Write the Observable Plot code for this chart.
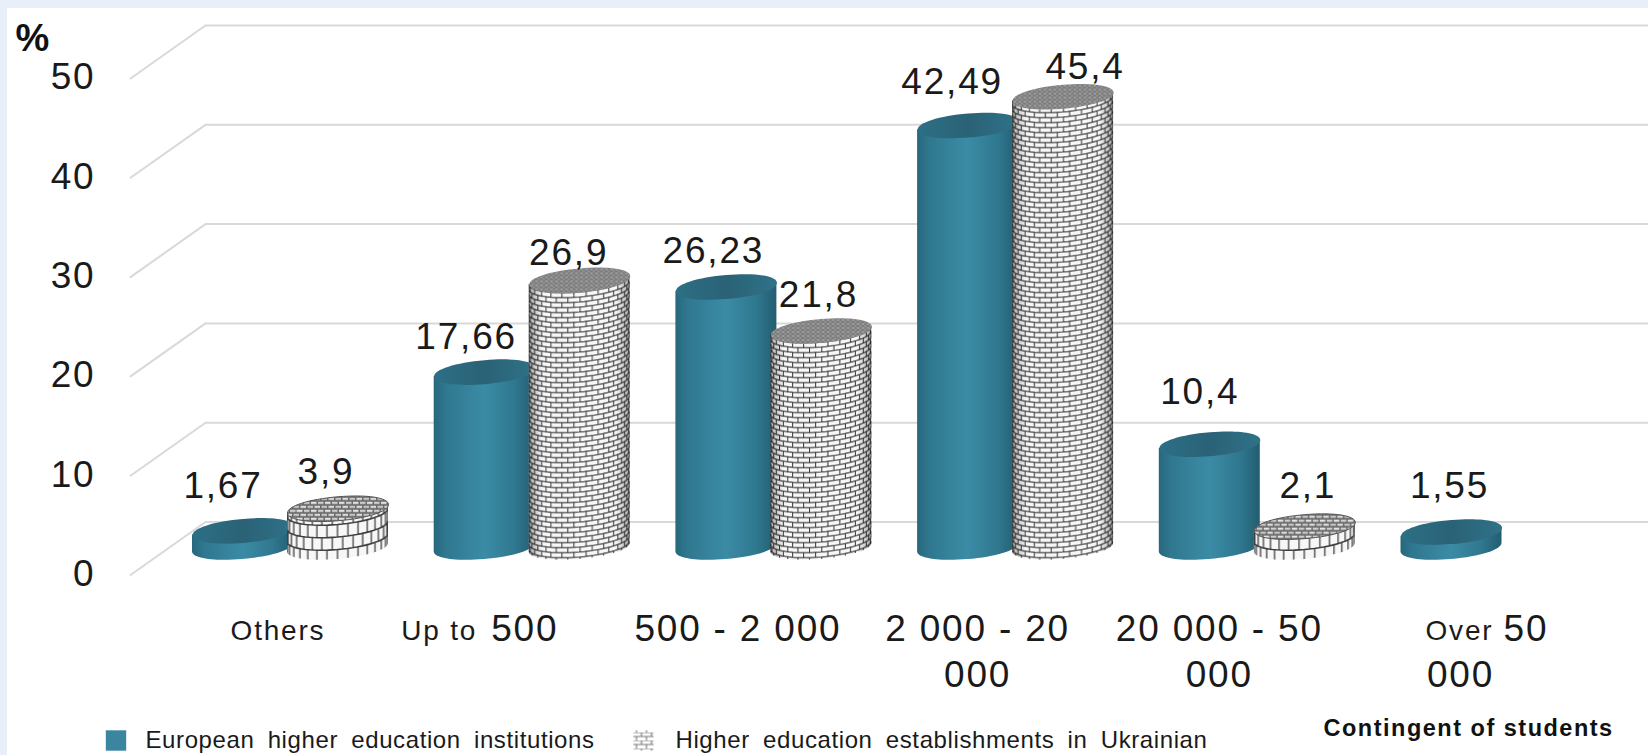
<!DOCTYPE html>
<html>
<head>
<meta charset="utf-8">
<script src="https://cdn.jsdelivr.net/npm/d3@7"></script>
<script src="https://cdn.jsdelivr.net/npm/@observablehq/plot@0.6"></script>
<style>
  html, body { margin: 0; padding: 0; width: 1648px; height: 755px; overflow: hidden; background: #e9eff8; }
  #panel { position: absolute; left: 7px; top: 8px; right: 0; bottom: 0; background: #fff; }
  #chart { position: absolute; left: 0; top: 0; }
  #chart text { letter-spacing: 1.8px; }
  #chart .legend-entry text { letter-spacing: 0.6px; word-spacing: 6px; }
  #chart .x-title text { letter-spacing: 1.5px; }
</style>
</head>
<body>
<div id="panel"></div>
<div id="chart"></div>
<script>
// Share of institutions by size of student body, in percent.
const categories = ["Others", "Up to 500", "500 - 2 000", "2 000 - 20 000", "20 000 - 50 000", "Over 50 000"];
const european = [1.67, 17.66, 26.23, 42.49, 10.4, 1.55];
const ukrainian = [3.9, 26.9, 21.8, 45.4, 2.1, null];
const yTicks = [0, 10, 20, 30, 40, 50];
const europeanName = "European higher education institutions";
const ukrainianName = "Higher education establishments in Ukrainian";
const xTitle = "Contingent of students";
const yTitle = "%";

const comma = (v) => String(v).replace(".", ",");
const rows = (values) => values.map((value, i) => ({category: categories[i], value})).filter((d) => d.value != null);
const europeanRows = rows(european);
const ukrainianRows = rows(ukrainian);

// Cylinder geometry: half width, ellipse half height and the rise of the right end.
const A = 50.5, B = 12, S = 4.2, K = 0.58;
const STEP = 241.7, CENTER0 = 290;
const INNER = 117.85, OUTER = 22.85, SHIFT = 47.5;
const FRONT = 27.5, BACK = -25.5;

// Maps a point of the unit circle onto the sheared ellipse.
const ex = (u) => A * u;
const ey = (u, v) => B * v - S * u;

const ellipse = {
  draw(c) {
    c.moveTo(ex(1), ey(1, 0));
    c.bezierCurveTo(ex(1), ey(1, K), ex(K), ey(K, 1), ex(0), ey(0, 1));
    c.bezierCurveTo(ex(-K), ey(-K, 1), ex(-1), ey(-1, K), ex(-1), ey(-1, 0));
    c.bezierCurveTo(ex(-1), ey(-1, -K), ex(-K), ey(-K, -1), ex(0), ey(0, -1));
    c.bezierCurveTo(ex(K), ey(K, -1), ex(1), ey(1, -K), ex(1), ey(1, 0));
    c.closePath();
  }
};

// Turns each bar rectangle into a cylinder wall with a rounded, tilted bottom.
function cylinderBody(index, scales, values, dimensions, context, next) {
  const g = next(index, scales, values, dimensions, context);
  g.querySelectorAll("rect").forEach((r) => {
    const x = +r.getAttribute("x"), y = +r.getAttribute("y");
    const w = +r.getAttribute("width"), h = +r.getAttribute("height");
    const cx = x + w / 2, by = y + h;
    const p = d3.path();
    p.moveTo(cx + ex(-1), y + ey(-1, 0));
    p.lineTo(cx + ex(-1), by + ey(-1, 0));
    p.bezierCurveTo(cx + ex(-1), by + ey(-1, K), cx + ex(-K), by + ey(-K, 1), cx, by + ey(0, 1));
    p.bezierCurveTo(cx + ex(K), by + ey(K, 1), cx + ex(1), by + ey(1, K), cx + ex(1), by + ey(1, 0));
    p.lineTo(cx + ex(1), y + ey(1, 0));
    p.closePath();
    const path = document.createElementNS("http://www.w3.org/2000/svg", "path");
    path.setAttribute("d", p.toString());
    r.replaceWith(path);
  });
  return g;
}

// Brick wall wrapped round a cylinder: joints crowd together towards the edges
// and the courses bow downward in the middle.
function brickTile(id, rowH, jointDeg, courseStroke, courseWidth, jointStroke, jointWidth) {
  const left = (CENTER0 - 3) % STEP, cx = left + A;
  const course = (y, u) => y + B * Math.sqrt(Math.max(0, 1 - u * u)) - S * u;
  const reach = Math.ceil(24 / rowH);
  let courses = "", joints = "";
  for (let k = -reach; k <= reach; k++) {
    const y0 = k * rowH;
    const pts = d3.range(0, 33).map((i) => {
      const u = Math.sin((-90 + i * 180 / 32) * Math.PI / 180);
      return `${(cx + A * u).toFixed(2)},${course(y0, u).toFixed(2)}`;
    });
    courses += "M" + pts.join("L");
    const offset = (k & 1) ? jointDeg / 2 : 0;
    for (let t = -90 + offset; t <= 90; t += jointDeg) {
      const u = Math.sin(t * Math.PI / 180);
      const x = (cx + A * u).toFixed(2);
      joints += `M${x},${course(y0, u).toFixed(2)}L${x},${course(y0 + rowH, u).toFixed(2)}`;
    }
  }
  return `<pattern id="${id}" patternUnits="userSpaceOnUse" width="${STEP}" height="${2 * rowH}">
    <rect width="${STEP}" height="${2 * rowH}" fill="#f7f7f7"/>
    <path d="${courses}" fill="none" stroke="${courseStroke}" stroke-width="${courseWidth}"/>
    <path d="${joints}" fill="none" stroke="${jointStroke}" stroke-width="${jointWidth}"/>
  </pattern>`;
}

// Gradients and patterns used as fills by the marks below.
function paintDefs() {
  const svg = document.createElementNS("http://www.w3.org/2000/svg", "g");
  svg.innerHTML = `<defs>
    <linearGradient id="tealBody" x1="0" x2="1" y1="0" y2="0">
      <stop offset="0" stop-color="#27677d"/><stop offset="0.12" stop-color="#2f788f"/>
      <stop offset="0.5" stop-color="#3b8ba5"/><stop offset="0.8" stop-color="#2f788f"/>
      <stop offset="1" stop-color="#235d71"/>
    </linearGradient>
    <linearGradient id="tealTop" x1="0" x2="1" y1="0" y2="0">
      <stop offset="0" stop-color="#2d6f86"/><stop offset="0.5" stop-color="#2a6276"/>
      <stop offset="1" stop-color="#2f7288"/>
    </linearGradient>
    <linearGradient id="brickShade" x1="0" x2="1" y1="0" y2="0">
      <stop offset="0" stop-color="#000" stop-opacity="0.3"/><stop offset="0.14" stop-color="#000" stop-opacity="0"/>
      <stop offset="0.86" stop-color="#000" stop-opacity="0"/><stop offset="1" stop-color="#000" stop-opacity="0.3"/>
    </linearGradient>
    ${brickTile("brickTall", 5, 14, "#7a7a7a", 1.7, "#333", 1)}
    ${brickTile("brickShort", 12.5, 12, "#3f3f3f", 1.6, "#3f3f3f", 1.3)}
    <pattern id="topTall" patternUnits="userSpaceOnUse" width="5" height="4">
      <rect width="5" height="4" fill="#7c7c7c"/>
      <rect x="0.5" y="0.5" width="2.5" height="1" fill="#bdbdbd"/>
      <rect x="3" y="2.5" width="2" height="1" fill="#a8a8a8"/>
    </pattern>
    <pattern id="topShort" patternUnits="userSpaceOnUse" width="14" height="8">
      <rect width="14" height="8" fill="#6a6a6a"/>
      <rect x="1" y="1" width="5.5" height="2.2" fill="#e4e4e4"/>
      <rect x="8" y="1" width="5.5" height="2.2" fill="#cfcfcf"/>
      <rect x="4.5" y="5" width="5.5" height="2.2" fill="#dcdcdc"/>
      <rect x="11.5" y="5" width="2.5" height="2.2" fill="#c6c6c6"/>
      <rect x="0" y="5" width="3" height="2.2" fill="#c6c6c6"/>
    </pattern>
    <pattern id="swatchBrick" patternUnits="userSpaceOnUse" width="10" height="8" x="3" y="0">
      <rect width="10" height="8" fill="#fff"/>
      <path d="M0,0H10M0,4H10M5,0V4M0,4V8M10,4V8" stroke="#777" stroke-width="1.1" fill="none"/>
    </pattern>
  </defs>`;
  return svg;
}

const isTall = (d) => d.value >= 5;

// Value labels are nudged by hand so that they clear the neighbouring cylinder.
const europeanNudge = [[-20, -45], [-18.6, -35], [-13, -36], [-16, -43], [-10, -52], [-2, -46]];
const ukrainianNudge = [[-12, -37], [-11, -27], [-3, -36], [22, -30], [3, -40]];
const valueLabels = (data, shift, nudge) => data.map((d, i) => Plot.text([d], {
  x: "category", y: "value", text: (r) => comma(r.value),
  dx: shift + nudge[i][0], dy: nudge[i][1],
  fontSize: 37, fill: "#1a1a1a", lineAnchor: "middle"
}));

// Category names mix two type sizes and wrap on to a second line.
const BIG = 37, SMALL = 28, LINE1 = 629, LINE2 = 675;
const categoryPieces = [
  {i: 0, text: "Others", dx: -12.5, y: LINE1 + 2, size: SMALL, anchor: "middle"},
  {i: 1, text: "Up to", dx: -131, y: LINE1 + 2, size: SMALL, anchor: "start"},
  {i: 1, text: "500", dx: -41, y: LINE1, size: BIG, anchor: "start"},
  {i: 2, text: "500 - 2 000", dx: -36, y: LINE1, size: BIG, anchor: "middle"},
  {i: 3, text: "2 000 - 20", dx: -38, y: LINE1, size: BIG, anchor: "middle"},
  {i: 3, text: "000", dx: -38, y: LINE2, size: BIG, anchor: "middle"},
  {i: 4, text: "20 000 - 50", dx: -38, y: LINE1, size: BIG, anchor: "middle"},
  {i: 4, text: "000", dx: -38, y: LINE2, size: BIG, anchor: "middle"},
  {i: 5, text: "Over", dx: -73.5, y: LINE1 + 2, size: SMALL, anchor: "start"},
  {i: 5, text: "50", dx: 4.5, y: LINE1, size: BIG, anchor: "start"},
  {i: 5, text: "000", dx: -38.5, y: LINE2, size: BIG, anchor: "middle"}
];

// The two marks of a legend entry, placed from the bottom-left corner of the frame.
const legendEntry = (swatchX, textX, fill, name) => [
  Plot.dot([name], {frameAnchor: "bottom-left", dx: swatchX, dy: -15, r: 11.5, symbol: "square", fill, stroke: "none"}),
  Plot.text([name], {frameAnchor: "bottom-left", dx: textX, dy: -15, textAnchor: "start", lineAnchor: "middle", fontSize: 24, fill: "#1a1a1a", className: "legend-entry"})
];

const sideWall = {draw(c, l) { c.moveTo(0, 0); c.lineTo(0, -l); }};

const chart = Plot.plot({
  width: 1648,
  height: 755,
  marginLeft: 0, marginRight: 0, marginTop: 0, marginBottom: 0,
  style: {background: "transparent", fontFamily: "'Liberation Sans', Arial, sans-serif", overflow: "visible"},
  x: {type: "band", domain: categories, range: [CENTER0 - STEP / 2, CENTER0 + 5.5 * STEP], padding: 0, round: false, axis: null},
  y: {domain: [0, 50], range: [547, 50.5], axis: null},
  marks: [
    paintDefs,
    // back wall and side wall of the chart box
    Plot.ruleY(yTicks, {dy: BACK, insetLeft: 205, stroke: "#d9d9d9", strokeWidth: 2}),
    Plot.vector(yTicks, {y: (d) => d, frameAnchor: "left", dx: 130, dy: FRONT, length: 91.8, rotate: 54.75, anchor: "start", shape: sideWall, stroke: "#d9d9d9", strokeWidth: 2}),
    Plot.axisY(yTicks, {anchor: "left", tickSize: 0, tickPadding: 0, dx: 95, dy: FRONT - 1, fontSize: 37, fill: "#1a1a1a", label: null, tickFormat: String}),

    // European cylinders
    Plot.barY(europeanRows, {x: "category", y: "value", fill: "url(#tealBody)", insetLeft: OUTER, insetRight: INNER, render: cylinderBody}),
    Plot.dot(europeanRows, {x: "category", y: "value", dx: -SHIFT, symbol: ellipse, fill: "url(#tealTop)", stroke: "none"}),

    // Ukrainian cylinders: tall ones in fine brick, low ones as coarse stacks
    Plot.barY(ukrainianRows.filter(isTall), {x: "category", y: "value", fill: "url(#brickTall)", insetLeft: INNER, insetRight: OUTER, render: cylinderBody}),
    Plot.barY(ukrainianRows.filter(isTall), {x: "category", y: "value", fill: "url(#brickShade)", insetLeft: INNER, insetRight: OUTER, render: cylinderBody}),
    Plot.dot(ukrainianRows.filter(isTall), {x: "category", y: "value", dx: SHIFT, symbol: ellipse, fill: "url(#topTall)", stroke: "none"}),
    Plot.barY(ukrainianRows.filter((d) => !isTall(d)), {x: "category", y: "value", fill: "url(#brickShort)", insetLeft: INNER, insetRight: OUTER, render: cylinderBody}),
    Plot.dot(ukrainianRows.filter((d) => !isTall(d)), {x: "category", y: "value", dx: SHIFT, symbol: ellipse, fill: "url(#topShort)", stroke: "#555", strokeWidth: 1}),

    ...valueLabels(europeanRows, -SHIFT, europeanNudge),
    ...valueLabels(ukrainianRows, SHIFT, ukrainianNudge),

    ...categoryPieces.map((p) => Plot.text([p.text], {
      x: () => categories[p.i], frameAnchor: "top", dx: p.dx, dy: p.y,
      textAnchor: p.anchor, lineAnchor: "middle", fontSize: p.size, fill: "#1a1a1a"
    })),

    Plot.text([yTitle], {frameAnchor: "top-left", dx: 15, dy: 38, textAnchor: "start", lineAnchor: "middle", fontSize: 38, fontWeight: "bold", fill: "#111"}),
    Plot.text([xTitle], {frameAnchor: "bottom-left", dx: 1323, dy: -27, textAnchor: "start", lineAnchor: "middle", fontSize: 23.5, fontWeight: "bold", fill: "#111", className: "x-title"}),
    ...legendEntry(115.5, 145, "#3a86a0", europeanName),
    ...legendEntry(643, 675, "url(#swatchBrick)", ukrainianName)
  ]
});
document.getElementById("chart").appendChild(chart);
</script>
</body>
</html>
